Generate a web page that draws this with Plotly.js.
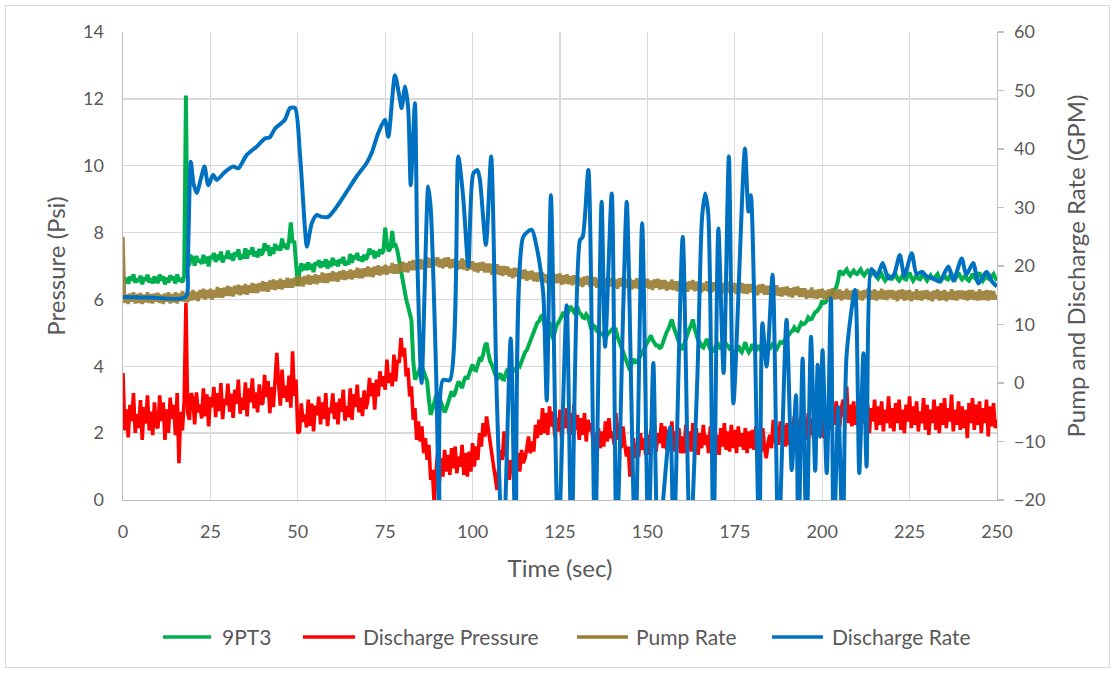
<!DOCTYPE html>
<html>
<head>
<meta charset="utf-8">
<script src="https://cdn.plot.ly/plotly-3.0.1.min.js"></script>
<style>
  html, body { margin: 0; padding: 0; background: #ffffff; }
  #chart { width: 1115px; height: 673px; }
  #frame { position: absolute; left: 5px; top: 5px; width: 1103px; height: 661px;
           border: 1px solid #d9d9d9; pointer-events: none; }
</style>
</head>
<body>
<div id="chart"></div>
<div id="frame"></div>
<script>
// Logged channels: one sample every 0.5 s, t = 0 ... 250 s (20 samples per row = 10 s)
const T_START = 0;
const T_STEP = 0.5;

// 9PT3 pressure (psi), left axis
const pt3Psi = [
  6.72, 6.51, 6.65, 6.47, 6.68, 6.57, 6.75, 6.50, 6.62, 6.53, 6.71, 6.45, 6.66, 6.56, 6.74, 6.51, 6.63, 6.48, 6.69, 6.54,
  6.53, 6.74, 6.57, 6.69, 6.45, 6.65, 6.50, 6.72, 6.59, 6.68, 6.48, 6.75, 6.54, 6.63, 6.51, 6.70, 12.10, 7.00, 7.05, 7.28,
  7.24, 7.01, 7.30, 7.12, 7.19, 7.06, 7.33, 7.08, 7.28, 6.99, 7.30, 7.21, 7.39, 7.12, 7.34, 7.18, 7.43, 7.11, 7.29, 7.23,
  7.46, 7.21, 7.37, 7.16, 7.41, 7.28, 7.50, 7.19, 7.34, 7.23, 7.53, 7.22, 7.47, 7.35, 7.56, 7.29, 7.44, 7.26, 7.51, 7.33,
  7.40, 7.68, 7.46, 7.62, 7.30, 7.56, 7.36, 7.66, 7.48, 7.60, 7.46, 7.82, 7.54, 7.66, 7.50, 7.76, 8.30, 7.70, 7.75, 7.00,
  6.40, 6.85, 7.08, 6.93, 6.99, 6.88, 7.11, 6.90, 7.06, 6.82, 7.10, 7.02, 7.17, 6.95, 7.13, 6.99, 7.20, 6.93, 7.08, 7.04,
  7.24, 7.03, 7.16, 6.99, 7.20, 7.09, 7.27, 7.02, 7.14, 7.05, 7.36, 7.10, 7.31, 7.21, 7.39, 7.16, 7.28, 7.13, 7.34, 7.19,
  7.31, 7.52, 7.35, 7.47, 7.23, 7.43, 7.28, 7.50, 7.37, 7.46, 8.15, 7.65, 7.44, 7.53, 8.05, 7.61, 7.62, 7.45, 7.15, 6.85,
  6.45, 6.20, 6.00, 5.80, 5.60, 5.38, 4.20, 3.60, 3.70, 3.85, 3.95, 4.00, 3.85, 3.70, 3.55, 3.00, 2.55, 2.70, 2.95, 3.10,
  3.20, 3.05, 2.85, 2.72, 2.62, 2.75, 2.95, 3.15, 3.25, 3.10, 3.20, 3.40, 3.55, 3.45, 3.35, 3.55, 3.70, 3.62, 3.80, 3.92,
  4.05, 3.90, 3.88, 4.10, 4.22, 4.20, 4.35, 4.60, 4.70, 4.40, 4.15, 4.05, 3.92, 3.75, 3.60, 3.72, 3.78, 3.62, 3.60, 3.78,
  3.92, 3.78, 3.72, 3.86, 3.88, 3.95, 4.05, 4.00, 4.15, 4.28, 4.42, 4.48, 4.62, 4.78, 4.92, 5.02, 5.20, 5.30, 5.35, 5.48,
  5.52, 5.28, 5.02, 5.18, 5.32, 5.02, 4.82, 5.02, 5.22, 5.30, 5.38, 5.50, 5.62, 5.50, 5.52, 5.68, 5.80, 5.70, 5.62, 5.72,
  5.78, 5.60, 5.56, 5.46, 5.44, 5.55, 5.48, 5.28, 5.10, 5.22, 5.18, 5.06, 5.02, 4.96, 4.98, 4.88, 4.84, 4.95, 5.02, 5.06,
  5.12, 5.05, 5.08, 4.86, 4.72, 4.62, 4.48, 4.38, 4.18, 4.08, 3.88, 4.08, 4.22, 4.12, 4.12, 4.22, 4.30, 4.42, 4.50, 4.62,
  4.72, 4.82, 4.92, 4.78, 4.70, 4.62, 4.62, 4.55, 4.58, 4.75, 4.92, 5.02, 5.12, 5.28, 5.40, 5.18, 5.02, 4.82, 4.72, 4.58,
  4.50, 4.68, 4.80, 4.98, 5.12, 5.22, 5.40, 5.12, 4.92, 4.78, 4.72, 4.60, 4.56, 4.70, 4.82, 4.62, 4.50, 4.46, 4.46, 4.60,
  4.72, 4.58, 4.52, 4.68, 4.80, 4.66, 4.62, 4.52, 4.50, 4.40, 4.36, 4.50, 4.62, 4.48, 4.42, 4.56, 4.72, 4.52, 4.42, 4.50,
  4.66, 4.52, 4.46, 4.55, 4.62, 4.48, 4.42, 4.50, 4.56, 4.50, 4.52, 4.62, 4.70, 4.58, 4.52, 4.62, 4.72, 4.70, 4.76, 4.80,
  4.92, 4.94, 5.02, 5.06, 5.16, 5.08, 5.06, 5.20, 5.30, 5.26, 5.28, 5.34, 5.46, 5.40, 5.42, 5.52, 5.62, 5.64, 5.72, 5.80,
  5.96, 5.90, 5.92, 6.02, 6.10, 6.14, 6.22, 6.26, 6.36, 6.55, 6.86, 6.78, 6.76, 6.84, 6.90, 6.78, 6.72, 6.80, 6.86, 6.78,
  6.76, 6.84, 6.90, 6.78, 6.72, 6.80, 6.86, 6.78, 6.74, 6.80, 6.82, 6.68, 6.62, 6.70, 6.76, 6.64, 6.56, 6.64, 6.70, 6.62,
  6.62, 6.70, 6.76, 6.62, 6.56, 6.64, 6.72, 6.62, 6.60, 6.72, 6.80, 6.66, 6.56, 6.64, 6.72, 6.62, 6.60, 6.70, 6.76, 6.64,
  6.56, 6.64, 6.72, 6.62, 6.60, 6.70, 6.76, 6.62, 6.56, 6.64, 6.72, 6.62, 6.60, 6.70, 6.76, 6.66, 6.60, 6.72, 6.80, 6.68,
  6.60, 6.66, 6.72, 6.60, 6.56, 6.66, 6.76, 6.66, 6.60, 6.72, 6.80, 6.66, 6.56, 6.64, 6.72, 6.62, 6.60, 6.70, 6.76, 6.64,
  6.56
];

// Discharge pressure (psi), left axis
const dischargePsi = [
  3.80, 2.08, 2.71, 1.87, 2.85, 2.36, 3.20, 2.01, 2.57, 2.15, 2.99, 1.80, 2.78, 2.29, 3.13, 2.08, 2.64, 1.94, 2.92, 2.22,
  2.15, 3.13, 2.36, 2.92, 1.80, 2.71, 2.01, 3.06, 2.43, 2.85, 1.94, 3.20, 1.10, 2.64, 2.08, 2.99, 5.90, 2.60, 2.40, 3.20,
  3.04, 2.26, 3.22, 2.62, 2.86, 2.44, 3.34, 2.50, 3.16, 2.20, 3.08, 2.78, 3.38, 2.48, 3.20, 2.66, 3.50, 2.42, 3.02, 2.84,
  3.48, 2.64, 3.18, 2.46, 3.30, 2.88, 3.60, 2.58, 3.06, 2.70, 3.52, 2.50, 3.34, 2.92, 3.64, 2.74, 3.22, 2.62, 3.46, 2.86,
  2.90, 3.74, 3.08, 3.56, 2.60, 3.38, 2.78, 3.68, 4.40, 3.50, 2.82, 3.90, 3.06, 3.42, 2.94, 3.72, 2.76, 4.45, 3.12, 3.60,
  2.00, 2.05, 2.89, 2.34, 2.56, 2.17, 3.00, 2.22, 2.88, 2.05, 2.82, 2.54, 3.09, 2.26, 2.92, 2.43, 3.20, 2.21, 2.76, 2.60,
  3.19, 2.42, 2.92, 2.26, 3.03, 2.64, 3.30, 2.37, 2.81, 2.48, 3.34, 2.40, 3.17, 2.78, 3.45, 2.62, 3.06, 2.51, 3.28, 2.73,
  2.95, 3.65, 3.10, 3.50, 2.70, 3.60, 3.10, 3.85, 3.40, 3.70, 3.30, 4.20, 3.50, 3.80, 3.40, 4.35, 3.55, 4.20, 4.10, 4.85,
  4.30, 4.55, 3.70, 3.95, 3.10, 3.40, 2.40, 2.75, 1.80, 2.35, 1.75, 2.20, 1.40, 1.85, 1.20, 1.65, 0.60, 0.90, -0.10, 0.80,
  1.40, 0.55, 1.25, 0.70, 1.50, 0.85, 1.35, 0.75, 1.55, 0.95, 1.60, 0.80, 1.30, 1.00, 1.65, 0.75, 1.40, 0.70, 1.45, 0.85,
  1.70, 1.00, 1.60, 1.20, 2.00, 1.60, 2.30, 1.90, 2.50, 2.10, 1.70, 1.40, 1.10, 0.70, 0.30, 1.00, 1.50, 1.20, 2.05, 1.40,
  1.10, 0.60, 1.20, 0.80, 1.55, 0.95, 1.40, 0.85, 1.50, 1.10, 1.25, 1.55, 1.90, 1.40, 1.75, 1.45, 2.25, 1.85, 2.40, 1.95,
  2.75, 2.00, 2.60, 1.95, 2.80, 2.20, 2.65, 1.90, 2.45, 2.05, 2.70, 1.85, 2.55, 2.15, 2.75, 2.00, 2.60, 1.95, 2.85, 2.10,
  2.55, 1.80, 2.45, 1.95, 2.60, 1.75, 2.40, 2.05, 2.30, 1.65, 1.50, 1.95, 2.15, 1.55, 2.05, 1.60, 2.35, 1.75, 2.45, 1.85,
  2.05, 1.65, 2.60, 1.80, 2.30, 1.55, 2.20, 1.70, 1.30, 1.60, 0.70, 1.40, 1.85, 1.25, 1.70, 1.30, 2.00, 1.50, 1.85, 1.35,
  1.95, 1.35, 2.10, 1.60, 2.25, 1.45, 2.00, 1.70, 2.30, 1.55, 2.20, 1.50, 2.10, 1.60, 2.35, 1.45, 2.05, 1.55, 2.15, 1.40,
  1.90, 1.40, 2.25, 1.55, 2.05, 1.45, 2.30, 1.60, 2.15, 1.35, 2.00, 1.55, 2.25, 1.65, 1.95, 1.40, 2.20, 1.55, 2.10, 1.45,
  1.95, 1.35, 2.15, 1.60, 2.30, 1.50, 2.05, 1.45, 2.25, 1.55, 2.10, 1.40, 2.20, 1.60, 2.00, 1.50, 2.15, 1.40, 2.05, 1.55,
  2.10, 1.50, 2.20, 1.60, 2.05, 1.45, 2.15, 1.55, 1.25, 1.70, 1.95, 1.55, 2.40, 1.70, 2.20, 1.65, 2.35, 1.75, 2.25, 1.60,
  2.30, 1.65, 2.35, 1.75, 2.50, 1.80, 2.40, 1.85, 2.55, 1.90, 2.30, 1.80, 2.60, 1.95, 2.45, 1.85, 2.55, 2.00, 2.40, 1.90,
  2.45, 1.85, 2.50, 2.05, 2.60, 2.10, 2.85, 2.25, 2.95, 2.40, 2.20, 2.75, 3.00, 2.35, 3.40, 2.30, 2.85, 2.20, 2.95, 2.25,
  2.80, 2.10, 2.70, 2.30, 3.05, 2.20, 2.85, 2.00, 2.75, 2.35, 3.00, 2.10, 2.80, 2.25, 2.95, 2.05, 2.70, 2.30, 3.10, 2.15,
  2.75, 2.05, 2.90, 2.30, 3.00, 2.10, 2.70, 2.00, 2.85, 2.35, 3.10, 2.15, 2.80, 2.25, 2.95, 2.05, 2.65, 2.30, 3.05, 2.10,
  2.85, 1.95, 2.70, 2.30, 3.00, 2.10, 2.80, 2.00, 2.90, 2.25, 3.05, 2.15, 2.75, 2.35, 3.15, 2.05, 2.70, 2.25, 2.95, 2.10,
  2.80, 2.15, 2.70, 1.85, 2.90, 2.30, 3.05, 2.10, 2.85, 2.25, 2.95, 2.00, 2.75, 2.30, 3.00, 1.90, 2.80, 2.20, 2.90, 2.15,
  2.40
];

// Pump rate (GPM), right axis
const pumpGpm = [
  25.0, 13.7, 15.1, 13.5, 15.3, 13.9, 15.5, 13.6, 15.2, 13.7, 15.4, 13.5, 15.1, 13.8, 15.5, 13.7, 15.2, 13.6, 15.3, 13.9,
  15.4, 13.7, 15.1, 13.5, 15.3, 13.9, 15.5, 13.6, 15.2, 13.8, 15.5, 13.6, 15.3, 14.0, 15.7, 13.9, 15.4, 13.8, 15.6, 14.1,
  15.9, 14.2, 15.6, 14.0, 15.9, 14.5, 16.1, 14.3, 15.9, 14.5, 16.1, 14.3, 15.9, 14.6, 16.4, 14.6, 16.2, 14.6, 16.3, 14.9,
  16.6, 14.9, 16.4, 14.8, 16.6, 15.2, 16.8, 15.0, 16.6, 15.2, 16.9, 15.1, 16.7, 15.4, 17.1, 15.4, 16.9, 15.4, 17.1, 15.7,
  17.4, 15.7, 17.2, 15.6, 17.5, 16.0, 17.7, 15.9, 17.5, 16.1, 17.8, 16.0, 17.6, 16.3, 18.0, 16.3, 17.8, 16.3, 18.0, 16.6,
  18.3, 16.6, 18.1, 16.5, 18.3, 16.9, 18.5, 16.8, 18.3, 17.0, 18.6, 16.9, 18.4, 17.2, 18.9, 17.1, 18.7, 17.1, 18.8, 17.4,
  19.1, 17.4, 18.9, 17.3, 19.1, 17.7, 19.3, 17.6, 19.1, 17.8, 19.4, 17.7, 19.2, 18.0, 19.7, 17.9, 19.5, 17.9, 19.6, 18.2,
  19.9, 18.2, 19.7, 18.1, 19.9, 18.5, 20.1, 18.4, 19.9, 18.6, 20.2, 18.5, 20.0, 18.8, 20.5, 18.7, 20.3, 18.7, 20.4, 19.0,
  20.7, 19.0, 20.5, 18.9, 20.8, 19.3, 21.0, 19.3, 20.8, 19.5, 21.2, 19.4, 21.0, 19.8, 21.5, 19.7, 21.3, 19.7, 21.4, 20.0,
  21.5, 19.8, 21.2, 19.6, 21.4, 19.9, 21.5, 19.6, 21.2, 19.7, 21.2, 19.3, 20.9, 19.5, 21.3, 19.4, 21.0, 19.2, 20.9, 19.4,
  20.8, 19.1, 20.5, 18.9, 20.6, 19.2, 20.7, 18.9, 20.4, 18.9, 20.4, 18.5, 20.1, 18.7, 20.3, 18.5, 20.0, 18.3, 20.0, 18.5,
  19.9, 18.2, 19.5, 17.9, 19.7, 18.2, 19.6, 17.8, 19.3, 17.8, 19.4, 17.5, 19.1, 17.7, 19.2, 17.4, 18.9, 17.3, 18.9, 17.5,
  18.9, 17.2, 18.6, 17.0, 18.8, 17.3, 18.9, 17.0, 18.6, 17.1, 18.7, 16.8, 18.4, 17.0, 18.6, 16.9, 18.3, 16.7, 18.4, 16.9,
  18.3, 16.6, 18.0, 16.4, 18.2, 16.8, 18.3, 16.5, 18.1, 16.6, 18.1, 16.3, 17.8, 16.5, 18.2, 16.4, 17.9, 16.2, 17.9, 16.5,
  18.0, 16.3, 17.7, 16.1, 17.9, 16.5, 18.1, 16.2, 17.8, 16.3, 17.9, 16.0, 17.6, 16.2, 17.9, 16.1, 17.6, 16.0, 17.7, 16.3,
  17.8, 16.1, 17.5, 15.9, 17.7, 16.3, 17.8, 16.0, 17.6, 16.1, 17.6, 15.8, 17.3, 16.0, 17.7, 15.9, 17.4, 15.7, 17.4, 16.0,
  17.5, 15.8, 17.2, 15.6, 17.4, 16.0, 17.6, 15.7, 17.3, 15.8, 17.4, 15.5, 17.1, 15.8, 17.4, 15.6, 17.2, 15.5, 17.2, 15.8,
  17.2, 15.5, 16.9, 15.3, 17.1, 15.7, 17.3, 15.4, 17.0, 15.5, 17.1, 15.2, 16.8, 15.5, 17.1, 15.3, 16.9, 15.2, 16.9, 15.5,
  16.9, 15.2, 16.6, 15.0, 16.8, 15.4, 16.9, 15.1, 16.6, 15.1, 16.6, 14.8, 16.3, 15.0, 16.7, 14.9, 16.3, 14.8, 16.4, 15.0,
  16.5, 14.8, 16.2, 14.6, 16.4, 15.0, 16.5, 14.7, 16.2, 14.7, 16.2, 14.4, 15.9, 14.6, 16.3, 14.5, 15.9, 14.4, 16.0, 14.6,
  16.1, 14.4, 15.8, 14.2, 16.0, 14.6, 16.2, 14.3, 15.9, 14.4, 16.0, 14.1, 15.7, 14.4, 16.1, 14.3, 15.8, 14.2, 15.9, 14.5,
  16.0, 14.3, 15.7, 14.1, 15.9, 14.5, 16.1, 14.2, 15.8, 14.3, 16.0, 14.1, 15.7, 14.4, 16.1, 14.3, 15.8, 14.2, 15.9, 14.5,
  15.9, 14.3, 15.7, 14.0, 15.9, 14.4, 16.0, 14.1, 15.8, 14.2, 15.9, 14.0, 15.6, 14.3, 16.0, 14.2, 15.7, 14.1, 15.8, 14.4,
  15.9, 14.2, 15.6, 14.0, 15.8, 14.4, 16.0, 14.1, 15.7, 14.2, 15.9, 14.0, 15.6, 14.3, 16.0, 14.2, 15.7, 14.1, 15.8, 14.4,
  15.8, 14.3, 15.7, 14.1, 15.9, 14.3, 15.9, 14.2, 15.6, 14.1, 16.0, 14.2, 15.7, 14.2, 15.9, 14.1, 15.8, 14.3, 15.7, 14.3,
  15.0
];

// Discharge rate (GPM), right axis: sample times (s) and values
const dischargeT = [
  0, 8, 17.9, 18.5, 19.4, 20.2, 21.1, 22.3, 23.3, 24.4,
  25.8, 26.8, 29.2, 31.6, 33, 35.4, 38.2, 40.6, 42, 43.5,
  46.3, 47.8, 49.2, 50.6, 52.1, 52.6, 54, 55.4, 56.8, 58.7,
  61.1, 64, 66.8, 69.7, 71.1, 73, 74.9, 75.9, 77.8, 79.2,
  79.7, 80.7, 81.6, 82.3, 83.5, 84.2, 85.4, 87.3, 88.0, 89.6,
  90.5, 91.5, 93.5, 95.9, 97.3, 98.8, 100.2, 101.4, 102.1, 103.8,
  105.3, 106.9, 108.7, 110.9, 112.3, 114.5, 116.9, 118.3, 120.2, 121.2,
  122.4, 124.5, 126.9, 128.3, 130.7, 131.5, 133.1, 135.0, 136.9, 137.9,
  139.8, 141.2, 143.1, 144.1, 146.5, 148.5, 150.3, 151.7, 153.1, 156.5,
  157.5, 160.1, 162.2, 164.3, 165.6, 166.5, 167.4, 168.9, 170.3, 171.8,
  173.3, 174.6, 177.9, 178.9, 179.6, 182, 182.9, 184.1, 185.8, 187.5,
  189.8, 191.3, 192.5, 193.2, 194.4, 195.5, 196.8, 198, 198.7, 199.4,
  200.1, 201.3, 202.5, 203.3, 204.6, 205.9, 207, 209.4, 210.6, 211.8,
  212.7, 214.1, 215.6, 217.3, 218.9, 220.5, 222.2, 223.5, 225.6, 227,
  228.5, 230, 231.8, 233.5, 236.1, 237.5, 239.9, 241.2, 243.2, 244.7,
  247, 248.5, 250
];
const dischargeGpm = [
  14.7, 14.6, 14.7, 20, 37.8, 34, 32.5, 35, 37.0, 33.8,
  35.6, 34.7, 36.1, 37.0, 36.7, 39.0, 40.4, 41.8, 42.0, 43.5,
  45.0, 47.0, 47.0, 39.3, 26, 23.3, 27.3, 28.7, 28.4, 28.4,
  30.1, 32.7, 35.3, 37.6, 39.3, 42.7, 45.0, 42.1, 52.6, 48.5,
  47.0, 50.7, 46.7, 33.8, 47.8, 21, 0, 33.6, 30, 1,
  -24, 0.5, 0.5, 38.7, 31.8, 19.9, 35.8, 36.4, 34.7, 23.6,
  38.7, -2, -30, 7.6, -28, 25.0, 26.2, 23.3, 15.3, -3,
  32.1, -28, 13.3, -28, 24.4, 25, 36.4, -28, 31, 6.2,
  32.4, -28, 13, 31, -28, 27.3, -28, 3.4, -28, -7.5,
  -28, 25, -28, 1.1, 28, 32.4, 29, -28, 26.4, 1.7,
  38.7, -3.5, 40.1, 29.3, 32.1, -28, 10.2, 2.8, 18.5, -28,
  10.8, -14.9, -2.1, -28, 4.2, -28, 7.9, -15, 3.1, -9.2,
  5.6, -15.4, 14.5, -28, -4.1, -28, 5, 15.9, -15.4, 5.1,
  -14.3, 19.5, 18.2, 20.5, 17.9, 18.5, 21.9, 18.3, 22.2, 18.6,
  19, 18.2, 17.9, 17.3, 19.9, 17.5, 21.3, 18.5, 20.5, 17.0,
  19.0, 17.4, 16.5
];

// Legend entries (drawn as line keys + labels under the plot)
const legendNames = ['9PT3', 'Discharge Pressure', 'Pump Rate', 'Discharge Rate'];
const legendColors = ['#00B050', '#FF0000', '#9A7E34', '#0070C0'];

const FONT = 'Lato, "Open Sans", sans-serif';
const TEXT = '#595959';
const GRID = '#d9d9d9';
const AXIS = '#bfbfbf';

const traces = [
  { type: 'scatter', mode: 'lines', name: legendNames[0], x0: T_START, dx: T_STEP, y: pt3Psi,
    yaxis: 'y', line: { color: legendColors[0], width: 4 } },
  { type: 'scatter', mode: 'lines', name: legendNames[1], x0: T_START, dx: T_STEP, y: dischargePsi,
    yaxis: 'y', line: { color: legendColors[1], width: 3.6 } },
  { type: 'scatter', mode: 'lines', name: legendNames[2], x0: T_START, dx: T_STEP, y: pumpGpm,
    yaxis: 'y2', opacity: 0.92, line: { color: legendColors[2], width: 3.4 } },
  { type: 'scatter', mode: 'lines', name: legendNames[3], x: dischargeT, y: dischargeGpm,
    yaxis: 'y2', line: { color: legendColors[3], width: 4, shape: 'spline', smoothing: 0.7 } }
];

// legend key geometry in paper units (plot area spans 874 px horizontally)
const keyY = -0.2927;
const keyX0 = [0.0458, 0.2059, 0.5195, 0.7426];
const keyX1 = [0.1007, 0.2654, 0.5778, 0.8009];
const labelX = [0.1110, 0.2723, 0.5847, 0.8089];

const shapes = legendNames.map((n, i) => ({
  type: 'line', xref: 'paper', yref: 'paper',
  x0: keyX0[i], x1: keyX1[i], y0: keyY, y1: keyY,
  line: { color: legendColors[i], width: 3.5 }
}));
const annotations = legendNames.map((n, i) => ({
  text: n, xref: 'paper', yref: 'paper', x: labelX[i], y: keyY,
  xanchor: 'left', yanchor: 'middle', showarrow: false,
  font: { family: FONT, color: TEXT, size: 21 }
}));

const layout = {
  width: 1115, height: 673,
  paper_bgcolor: '#ffffff', plot_bgcolor: '#ffffff',
  margin: { l: 123, r: 118, t: 32, b: 173, pad: 0 },
  font: { family: FONT, color: TEXT, size: 18 },
  showlegend: false,
  shapes: shapes,
  annotations: annotations,
  xaxis: {
    range: [0, 250], tick0: 0, dtick: 25,
    showgrid: true, gridcolor: GRID, gridwidth: 1.4,
    showline: true, linecolor: AXIS, linewidth: 1.4,
    zeroline: false, ticks: '', ticklabelstandoff: 15,
    tickfont: { family: FONT, color: TEXT, size: 18 },
    title: { text: 'Time (sec)', font: { family: FONT, color: TEXT, size: 24 }, standoff: 19 }
  },
  yaxis: {
    range: [0, 14], tick0: 0, dtick: 2,
    showgrid: true, gridcolor: GRID, gridwidth: 1.4,
    showline: true, linecolor: AXIS, linewidth: 1.4,
    zeroline: false, ticks: '', ticklabelstandoff: 14,
    tickfont: { family: FONT, color: TEXT, size: 18 },
    title: { text: 'Pressure (Psi)', font: { family: FONT, color: TEXT, size: 24 }, standoff: 10 }
  },
  yaxis2: {
    range: [-20, 60], tick0: -20, dtick: 10,
    overlaying: 'y', side: 'right',
    showgrid: false, zeroline: false,
    showline: true, linecolor: AXIS, linewidth: 1.4,
    ticks: 'outside', ticklen: 6, tickcolor: AXIS, tickwidth: 1.4, ticklabelstandoff: 6,
    tickfont: { family: FONT, color: TEXT, size: 18 },
    title: { text: 'Pump and Discharge Rate (GPM)', font: { family: FONT, color: TEXT, size: 24 }, standoff: 24 }
  }
};

Plotly.newPlot('chart', traces, layout, { displayModeBar: false, staticPlot: true });
</script>
</body>
</html>
